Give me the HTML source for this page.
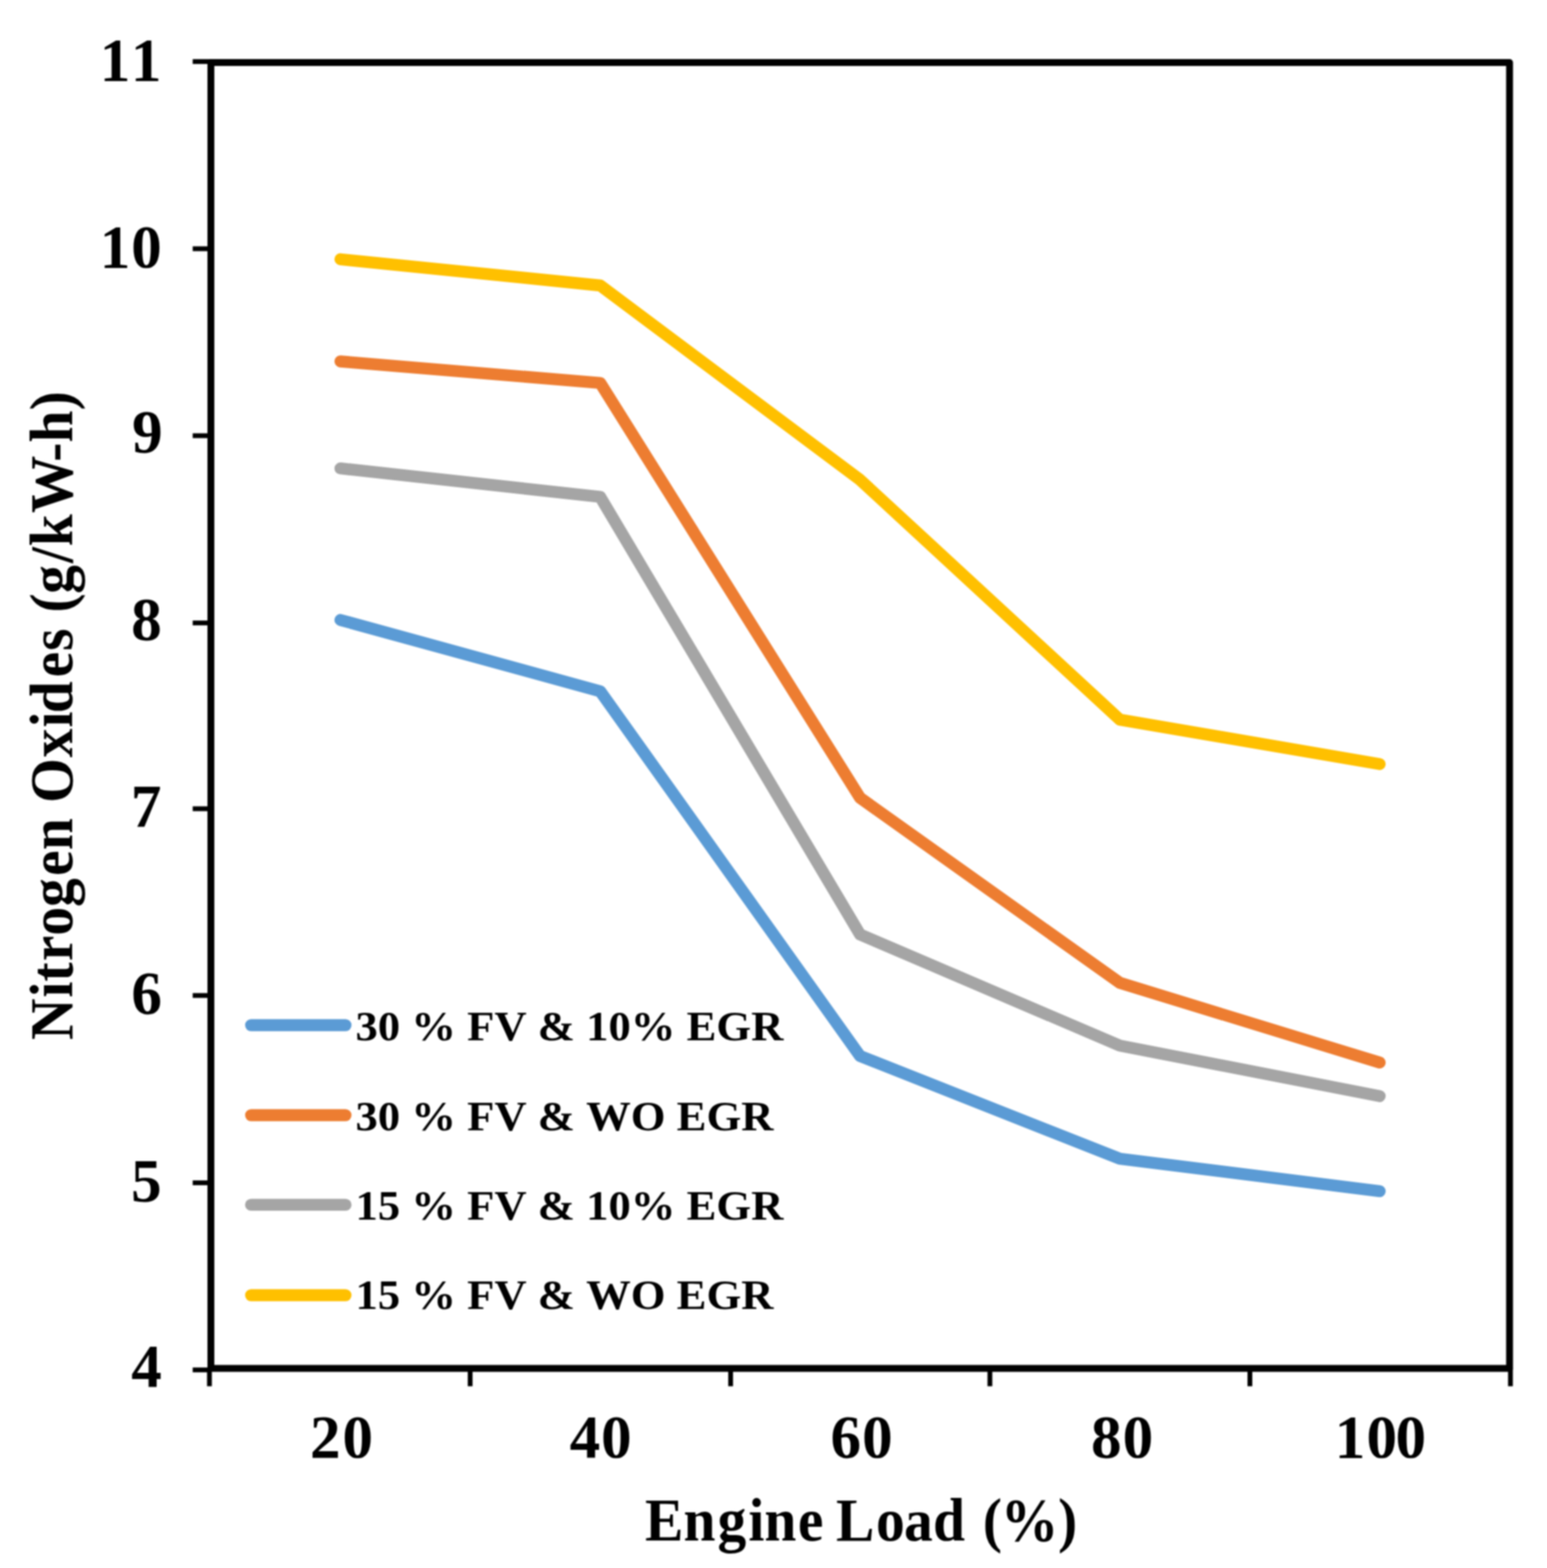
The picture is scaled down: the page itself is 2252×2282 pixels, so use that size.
<!DOCTYPE html>
<html lang="en"><head><meta charset="utf-8"><title>Nitrogen Oxides vs Engine Load</title>
<style>html,body{margin:0;padding:0;background:#fff}body{width:2252px;height:2282px;overflow:hidden}svg{display:block;filter:blur(1.2px)}text{font-family:"Liberation Serif", "DejaVu Serif", serif;font-weight:bold;fill:#000;font-kerning:none;font-variant-ligatures:none}</style></head><body>
<svg width="2252" height="2282" viewBox="0 0 2252 2282">
<rect width="2252" height="2282" fill="#fff"/>
<g stroke="#000" stroke-width="7" fill="none">
<line x1="280.5" y1="89.6" x2="307" y2="89.6"/>
<line x1="280.5" y1="362" x2="307" y2="362"/>
<line x1="280.5" y1="634.1" x2="307" y2="634.1"/>
<line x1="280.5" y1="906.6" x2="307" y2="906.6"/>
<line x1="280.5" y1="1177" x2="307" y2="1177"/>
<line x1="280.5" y1="1448.8" x2="307" y2="1448.8"/>
<line x1="280.5" y1="1721.4" x2="307" y2="1721.4"/>
<line x1="280.5" y1="1993.7" x2="307" y2="1993.7"/>
<line x1="304.9" y1="1991.5" x2="304.9" y2="2017.5"/>
<line x1="684.4" y1="1991.5" x2="684.4" y2="2017.5"/>
<line x1="1063.6" y1="1991.5" x2="1063.6" y2="2017.5"/>
<line x1="1441" y1="1991.5" x2="1441" y2="2017.5"/>
<line x1="1819.5" y1="1991.5" x2="1819.5" y2="2017.5"/>
<line x1="2198.8" y1="1991.5" x2="2198.8" y2="2017.5"/>
</g>
<rect x="307" y="91" width="1890.5" height="1900.5" fill="none" stroke="#000" stroke-width="10" stroke-linejoin="round"/>
<g fill="none" stroke-width="17.4" stroke-linecap="round" stroke-linejoin="round">
<polyline stroke="#5B9BD5" points="495.6,902.3 873.8,1006.1 1252,1536.9 1630.2,1686.4 2008.4,1733.6"/>
<polyline stroke="#ED7D31" points="495.6,526 873.8,557.4 1252,1161.2 1630.2,1430.4 2008.4,1546.4"/>
<polyline stroke="#A5A5A5" points="495.6,681.7 873.8,723.2 1252,1360 1630.2,1521.8 2008.4,1595.2"/>
<polyline stroke="#FFC000" points="495.6,377.3 873.8,415.5 1252,698.3 1630.2,1047.3 2008.4,1112"/>
</g>
<g>
<text xml:space="preserve" font-size="89" y="117" x="145.3 190.4">11</text>
<text xml:space="preserve" font-size="89" y="389.4" x="145.3 190.9">10</text>
<text xml:space="preserve" font-size="89" y="658.1" x="192.2">9</text>
<text xml:space="preserve" font-size="89" y="931.4" x="190.9">8</text>
<text xml:space="preserve" font-size="89" y="1203.4" x="190.5">7</text>
<text xml:space="preserve" font-size="89" y="1475.2" x="191.2">6</text>
<text xml:space="preserve" font-size="89" y="1747.5" x="190.7">5</text>
<text xml:space="preserve" font-size="89" y="2017.5" x="191.1">4</text>
</g>
<g>
<text xml:space="preserve" font-size="89" y="2121" x="451.2 498.6">20</text>
<text xml:space="preserve" font-size="89" y="2121" x="829.3 875">40</text>
<text xml:space="preserve" font-size="89" y="2121" x="1209.1 1254.9">60</text>
<text xml:space="preserve" font-size="89" y="2121" x="1588.2 1634.2">80</text>
<text xml:space="preserve" font-size="89" y="2121" x="1942.9 1989.2 2031.4">100</text>
</g>
<text xml:space="preserve" font-size="89" y="2242.2" x="999 1058.6 1111.3 1159 1183.8 1235.7 1275.2 1294.7 1356.6 1399.9 1444.9 1494.4 1522 1549.9 1638.5" transform="scale(0.94 1)">Engine Load (%)</text>
<g transform="translate(104.8,0) rotate(-90)"><text xml:space="preserve" font-size="89" y="0" x="-1610 -1544.4 -1519.8 -1488.1 -1448.6 -1404.4 -1356 -1316.2 -1266.7 -1243.2 -1172.6 -1126.3 -1104.2 -1048.8 -1007.6 -973 -948.3 -919.3 -871.9 -845.8 -794.4 -714.9 -685.2 -635.3" transform="scale(0.94 1)">Nitrogen Oxides (g/kW-h)</text></g>
<g stroke-width="17.4" stroke-linecap="round">
<line x1="365.5" y1="1492" x2="503" y2="1492" stroke="#5B9BD5"/>
<line x1="365.5" y1="1623" x2="503" y2="1623" stroke="#ED7D31"/>
<line x1="365.5" y1="1753.4" x2="503" y2="1753.4" stroke="#A5A5A5"/>
<line x1="365.5" y1="1885" x2="503" y2="1885" stroke="#FFC000"/>
</g>
<g font-size="65" transform="scale(1 0.955)">
<text x="517.5" y="1585.2" xml:space="preserve">30 % FV &amp; 10% EGR</text>
<text x="517.5" y="1722.4" xml:space="preserve">30 % FV &amp; WO EGR</text>
<text x="517.5" y="1858.8" xml:space="preserve">15 % FV &amp; 10% EGR</text>
<text x="517.5" y="1994.7" xml:space="preserve">15 % FV &amp; WO EGR</text>
</g>
</svg></body></html>
